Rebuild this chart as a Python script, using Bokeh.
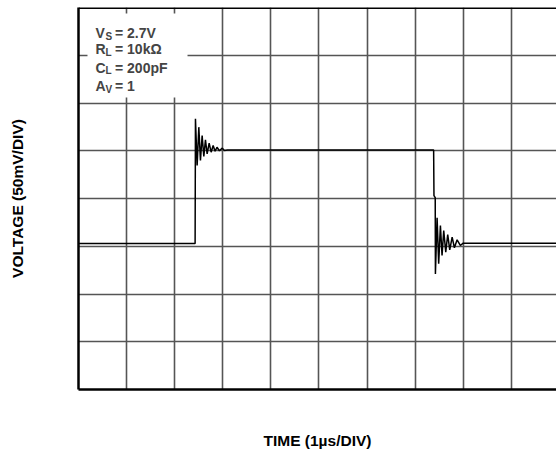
from bokeh.plotting import figure
from bokeh.models import FixedTicker, Label, Span, BoxAnnotation
from bokeh.embed import file_html
from bokeh.resources import INLINE

# ---- data (time in µs, voltage in mV; 1 µs/div, 50 mV/div) ----
time_us = [0.0, 2.425, 2.432, 2.467, 2.502, 2.536, 2.571, 2.606, 2.640, 2.675,
           2.717, 2.758, 2.800, 2.840, 2.880, 2.930, 2.990, 3.035, 3.10,
           7.385, 7.392, 7.418, 7.422, 7.457, 7.490, 7.526, 7.560, 7.595,
           7.637, 7.678, 7.720, 7.770, 7.817, 7.873, 7.940, 8.0, 10.0]
volt_mv = [153, 153, 283.5, 234.6, 274.7, 239.8, 266.0, 244.0, 261.4, 246.8,
           257.9, 248.5, 255.5, 249.5, 253.7, 250.0, 252.7, 250.3, 250.8,
           250.8, 203.0, 201.0, 121.0, 179.8, 131.6, 171.7, 140.3, 166.5,
           143.8, 162.3, 146.3, 159.5, 148.4, 156.7, 150.8, 153.2, 153.2]

x_divs = [0, 1, 2, 3, 4, 5, 6, 7, 8, 9, 10]
y_divs = [0, 50, 100, 150, 200, 250, 300, 350, 400]

cond_main = ["V", "R", "C", "A"]
cond_sub = ["S", "L", "L", "V"]
cond_rest = ["= 2.7V", "= 10kΩ", "= 200pF", "= 1"]

x_title = "TIME (1µs/DIV)"
y_title = "VOLTAGE (50mV/DIV)"

FONT = "Liberation Sans"

p = figure(width=556, height=454, output_backend="svg", toolbar_location=None,
           x_range=(0, 9.94), y_range=(0, 400),
           x_axis_label=x_title, y_axis_label=y_title,
           min_border_left=78, min_border_right=0, min_border_top=7,
           min_border_bottom=65)
p.outline_line_color = None
p.background_fill_color = "white"

for ax in (p.xaxis[0], p.yaxis[0]):
    ax.ticker = FixedTicker(ticks=[])
    ax.major_tick_out = 0
    ax.major_tick_in = 0
    ax.minor_tick_out = 0
    ax.minor_tick_in = 0
    ax.major_label_standoff = 0
    ax.major_label_text_font_size = "0px"
    ax.axis_line_color = "black"
    ax.axis_line_width = 2.5
    ax.axis_label_text_font = FONT
    ax.axis_label_text_font_style = "bold"
    ax.axis_label_text_font_size = "15.5px"
    ax.axis_label_text_color = "black"
p.yaxis[0].axis_label_standoff = 53
p.xaxis[0].axis_label_standoff = 42

p.xgrid.ticker = FixedTicker(ticks=x_divs)
p.ygrid.ticker = FixedTicker(ticks=y_divs)
for g in (p.xgrid, p.ygrid):
    g.grid_line_color = "#555555"
    g.grid_line_width = 1.6

# top frame border
p.add_layout(Span(location=400, dimension="width", line_color="black", line_width=3))

p.line(time_us, volt_mv, line_color="black", line_width=1.5)

# white box behind the conditions text
p.add_layout(BoxAnnotation(left=0.187, right=2.267, top=393.7, bottom=305.8,
                           fill_color="white", fill_alpha=1.0, line_color=None))

baselines = [25.7, 41.5, 60.0, 78.5]
for m, s, r, b in zip(cond_main, cond_sub, cond_rest, baselines):
    p.add_layout(Label(x=0, y=400, x_offset=17, y_offset=-b, text=m,
                       text_font=FONT, text_font_style="bold",
                       text_font_size="14px", text_baseline="alphabetic"))
    p.add_layout(Label(x=0, y=400, x_offset=27, y_offset=-b - 3, text=s,
                       text_font=FONT, text_font_style="bold",
                       text_font_size="10px", text_baseline="alphabetic"))
    p.add_layout(Label(x=0, y=400, x_offset=36.5, y_offset=-b, text=r,
                       text_font=FONT, text_font_style="bold",
                       text_font_size="14px", text_baseline="alphabetic"))

open("out.html", "w").write(file_html(p, INLINE))
